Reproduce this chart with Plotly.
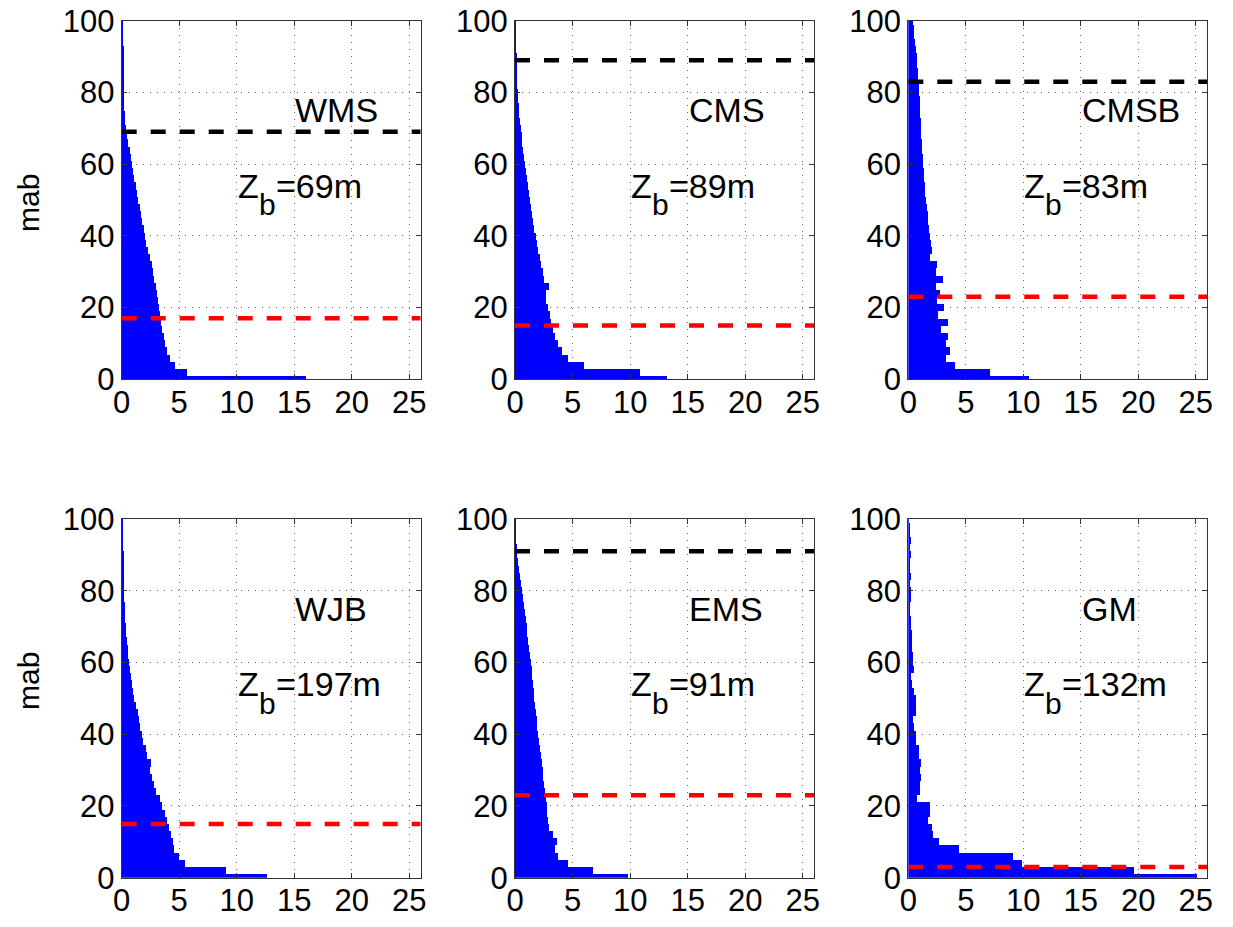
import plotly.graph_objects as go

# bin centres (m above bottom), bin width 2 m
depth_bins = list(range(0, 101, 2))

names = ["WMS", "CMS", "CMSB", "WJB", "EMS", "GM"]
zb_text = ["=69m", "=89m", "=83m", "=197m", "=91m", "=132m"]
zb_values = [69, 89, 83, 197, 91, 132]
red_levels = [17, 15, 23, 15, 23, 3]

wms = [16.0, 5.66, 4.64, 4.15, 3.95, 3.75, 3.65, 3.52, 3.4, 3.32, 3.22, 3.15, 3.05,
       2.93, 2.82, 2.7, 2.58, 2.47, 2.25, 2.12, 2.0, 1.89, 1.77, 1.65, 1.54, 1.42,
       1.31, 1.19, 1.07, 0.96, 0.9, 0.78, 0.67, 0.55, 0.44, 0.33, 0.27, 0.23, 0.2,
       0.18, 0.16, 0.14, 0.13, 0.12, 0.11, 0.1, 0.09, 0.08, 0.07, 0.06, 0.05]
cms = [13.2, 10.9, 6.03, 4.58, 4.06, 3.71, 3.48, 3.28, 3.13, 3.05, 2.84, 2.72, 2.68,
       2.93, 2.55, 2.41, 2.26, 2.14, 2.03, 1.91, 1.83, 1.68, 1.59, 1.48, 1.39, 1.30,
       1.22, 1.10, 1.01, 0.93, 0.87, 0.81, 0.72, 0.64, 0.58, 0.49, 0.43, 0.38, 0.32,
       0.29, 0.23, 0.20, 0.17, 0.14, 0.12, 0.09, 0.07, 0.05, 0.04, 0.03, 0.02]
cmsb = [10.5, 7.1, 4.12, 3.33, 3.62, 3.33, 3.48, 2.9, 3.48, 2.61, 3.13, 2.55, 2.75,
        2.46, 3.04, 2.46, 2.55, 1.95, 2.09, 2.0, 1.94, 1.85, 1.78, 1.71, 1.64, 1.57,
        1.5, 1.46, 1.42, 1.37, 1.32, 1.27, 1.22, 1.19, 1.16, 1.13, 1.1, 1.07, 1.04,
        1.01, 0.98, 0.95, 0.9, 0.85, 0.8, 0.75, 0.68, 0.6, 0.55, 0.5, 0.42]
wjb = [12.6, 9.0, 5.5, 4.93, 4.5, 4.4, 4.25, 4.1, 3.88, 3.75, 3.45, 3.32, 2.95,
       2.82, 2.6, 2.4, 2.5, 2.2, 2.05, 1.85, 1.7, 1.6, 1.5, 1.35, 1.2, 1.08, 0.97,
       0.86, 0.76, 0.7, 0.62, 0.55, 0.5, 0.43, 0.38, 0.33, 0.3, 0.26, 0.22, 0.2,
       0.17, 0.15, 0.14, 0.12, 0.1, 0.09, 0.08, 0.07, 0.06, 0.05, 0.04]
ems = [9.8, 6.8, 4.62, 3.71, 3.48, 3.63, 3.3, 2.95, 2.88, 2.82, 2.76, 2.68, 2.6,
       2.53, 2.46, 2.39, 2.32, 2.25, 2.17, 2.09, 2.02, 1.95, 1.88, 1.81, 1.74, 1.68,
       1.61, 1.55, 1.49, 1.44, 1.39, 1.31, 1.23, 1.15, 1.07, 1.0, 0.92, 0.85, 0.77,
       0.7, 0.62, 0.53, 0.44, 0.35, 0.25, 0.15, 0.1, 0.07, 0.05, 0.04, 0.03]
gm = [25.1, 19.65, 9.9, 9.1, 4.4, 2.67, 2.17, 2.09, 1.71, 1.88, 1.88, 0.78, 1.0,
      1.07, 1.13, 1.07, 1.13, 0.93, 0.93, 0.72, 0.67, 0.49, 0.43, 0.72, 0.72, 0.67,
      0.49, 0.35, 0.26, 0.49, 0.43, 0.43, 0.35, 0.35, 0.32, 0.26, 0.26, 0.2, 0.2,
      0.26, 0.26, 0.2, 0.26, 0.2, 0.2, 0.26, 0.2, 0.26, 0.15, 0.15, 0.06]
profiles = [wms, cms, cmsb, wjb, ems, gm]

x_ticks = [0, 5, 10, 15, 20, 25]
y_ticks = [0, 20, 40, 60, 80, 100]

W, H = 1233, 927
col_px = [(121.7, 420.7), (515.0, 814.3), (908.3, 1207.3)]
row_px = [(20.7, 379.3), (519.0, 877.7)]

FONT = "Liberation Sans, Arial, Helvetica, sans-serif"
TXT = 34
fig = go.Figure()
layout = dict(width=W, height=H, margin=dict(l=0, r=0, t=0, b=0, pad=0),
              paper_bgcolor="white", plot_bgcolor="white", showlegend=False,
              bargap=0, font=dict(family=FONT, size=31, color="black"))
annotations = []


def txt(xa, ya, x, y, s, size, xshift=0, yshift=0):
    annotations.append(dict(x=x, y=y, xref=xa, yref=ya, text=s, showarrow=False,
                            xanchor="left", yanchor="middle", xshift=xshift,
                            yshift=yshift, borderpad=0,
                            font=dict(size=size, family=FONT, color="black")))


for i in range(6):
    r, c = divmod(i, 3)
    k = "" if i == 0 else str(i + 1)
    xa, ya = "x" + k, "y" + k
    x0, x1 = col_px[c]
    y0, y1 = row_px[r]
    axis_common = dict(showline=True, mirror="ticks", linecolor="#333333", linewidth=1,
                       ticks="inside", ticklen=5, tickcolor="#333333", automargin=False,
                       showgrid=True, gridcolor="#666666", gridwidth=1,
                       griddash="1px,6px", zeroline=False,
                       tickfont=dict(size=31, family=FONT, color="black"))
    layout["xaxis" + k] = dict(domain=[x0 / W, x1 / W], anchor=ya, range=[0, 26],
                               tickvals=x_ticks, ticktext=[str(t) for t in x_ticks],
                               ticklabelstandoff=-5, **axis_common)
    layout["yaxis" + k] = dict(domain=[1 - y1 / H, 1 - y0 / H], anchor=xa, range=[0, 100],
                               tickvals=y_ticks, ticktext=[str(t) for t in y_ticks],
                               **axis_common)
    fig.add_trace(go.Bar(x=profiles[i], y=depth_bins, orientation="h", width=2,
                         marker=dict(color="#0000ff", line=dict(width=0)),
                         xaxis=xa, yaxis=ya))
    if zb_values[i] <= 100:
        fig.add_trace(go.Scatter(x=[0, 26], y=[zb_values[i]] * 2, mode="lines",
                                 line=dict(color="black", width=4.5, dash="15px,14px"),
                                 xaxis=xa, yaxis=ya))
    fig.add_trace(go.Scatter(x=[0, 26], y=[red_levels[i]] * 2, mode="lines",
                             line=dict(color="#ff0000", width=4.5, dash="15px,14px"),
                             xaxis=xa, yaxis=ya))
    txt(xa, ya, 15, 75, names[i], TXT)
    txt(xa, ya, 10, 54, "Z", TXT)
    txt(xa, ya, 10, 54, "b", 30, xshift=21, yshift=-19)
    txt(xa, ya, 10, 54, zb_text[i], TXT, xshift=38)

for yc in [203, 681]:
    annotations.append(dict(x=28 / W, y=1 - yc / H, xref="paper", yref="paper",
                            text="mab", textangle=-90, showarrow=False,
                            xanchor="center", yanchor="middle",
                            font=dict(size=30, family=FONT, color="black")))

layout["annotations"] = annotations
fig.update_layout(**layout)
fig.write_html("out.html")
